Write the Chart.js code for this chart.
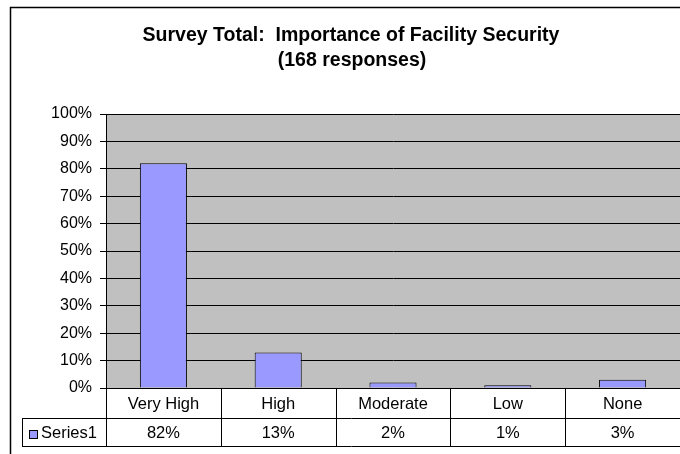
<!DOCTYPE html>
<html>
<head>
<meta charset="utf-8">
<script src="https://cdn.jsdelivr.net/npm/chart.js@4"></script>
<style>
html,body{margin:0;padding:0;background:#fff;}
#wrap{width:680px;height:454px;}
</style>
</head>
<body>
<div id="wrap"><canvas id="c" width="680" height="454"></canvas></div>
<script>
const titleLines = ['Survey Total:  Importance of Facility Security', '(168 responses)'];
const categories = ['Very High', 'High', 'Moderate', 'Low', 'None'];
const seriesName = 'Series1';
const values = [82, 13, 2, 1, 3];
const yTicks = [0, 10, 20, 30, 40, 50, 60, 70, 80, 90, 100];

const FONT = '"Liberation Sans", Arial, sans-serif';
const BAR_COLOR = '#9999FF';

const framePlugin = {
  id: 'frame',
  beforeDraw(chart) {
    const ctx = chart.ctx;
    const a = chart.chartArea;
    ctx.save();
    ctx.fillStyle = '#ffffff';
    ctx.fillRect(0, 0, chart.width, chart.height);
    ctx.strokeStyle = '#000';
    ctx.lineWidth = 1.5;
    ctx.strokeRect(10.5, 7.5, chart.width + 20, chart.height + 20);
    ctx.fillStyle = '#C0C0C0';
    ctx.fillRect(a.left, a.top, a.right - a.left, a.bottom - a.top);
    // title
    ctx.fillStyle = '#000';
    ctx.font = 'bold 19.5px ' + FONT;
    ctx.textAlign = 'center';
    ctx.textBaseline = 'alphabetic';
    ctx.fillText(titleLines[0], 351, 41);
    ctx.fillText(titleLines[1], 352, 66);
    ctx.restore();
  },
  afterDraw(chart) {
    const ctx = chart.ctx;
    const a = chart.chartArea;
    const xs = chart.scales.x;
    const n = categories.length;
    const w = (a.right - a.left) / n;
    const r0 = a.bottom, r1 = r0 + 30, r2 = r1 + 28;
    const right = a.right + 2;
    const lx = 22;
    ctx.save();
    ctx.strokeStyle = '#000';
    ctx.lineWidth = 1;
    ctx.beginPath();
    ctx.moveTo(a.left, Math.round(r0) + 0.5); ctx.lineTo(right, Math.round(r0) + 0.5);
    ctx.moveTo(lx, r1 + 0.5); ctx.lineTo(right, r1 + 0.5);
    ctx.moveTo(lx, r2 + 0.5); ctx.lineTo(right, r2 + 0.5);
    ctx.moveTo(lx + 0.5, r1); ctx.lineTo(lx + 0.5, r2);
    for (let i = 0; i <= n; i++) {
      const bx = Math.round(a.left + i * w) + 0.5;
      ctx.moveTo(bx, r0); ctx.lineTo(bx, r2);
    }
    ctx.stroke();
    ctx.fillStyle = '#000';
    ctx.font = '16.5px ' + FONT;
    ctx.textAlign = 'center';
    ctx.textBaseline = 'middle';
    categories.forEach((c, i) => {
      const cx = xs.getPixelForValue(i);
      ctx.fillText(c, cx, (r0 + r1) / 2 + 1);
      ctx.fillText(values[i] + '%', cx, (r1 + r2) / 2 + 1);
    });
    // legend key
    ctx.fillStyle = BAR_COLOR;
    ctx.fillRect(29.5, 430.5, 8, 8);
    ctx.strokeRect(29.5, 430.5, 8, 8);
    ctx.fillStyle = '#000';
    ctx.textAlign = 'left';
    ctx.fillText(seriesName, 41, (r1 + r2) / 2 + 1);
    ctx.restore();
  }
};

new Chart(document.getElementById('c'), {
  type: 'bar',
  data: {
    labels: categories,
    datasets: [{
      label: seriesName,
      data: values,
      backgroundColor: BAR_COLOR,
      borderColor: '#000',
      borderWidth: 1,
      categoryPercentage: 1,
      barPercentage: 0.41
    }]
  },
  options: {
    responsive: false,
    animation: false,
    devicePixelRatio: 1,
    layout: { padding: { left: 10, top: 114, right: 0, bottom: 66 } },
    plugins: { legend: { display: false }, title: { display: false }, tooltip: { enabled: false } },
    scales: {
      x: { display: false, offset: true },
      y: {
        min: 0, max: 100,
        afterFit(s) { s.width = 96; },
        afterBuildTicks(s) { s.ticks = yTicks.map(v => ({ value: v })); },
        ticks: {
          color: '#000',
          padding: 8,
          font: { family: FONT, size: 16 },
          callback: v => v + '%'
        },
        grid: { color: '#000', lineWidth: 1, tickLength: 6, drawTicks: true },
        border: { display: true, color: '#000', width: 1 }
      }
    }
  },
  plugins: [framePlugin]
});
</script>
</body>
</html>
